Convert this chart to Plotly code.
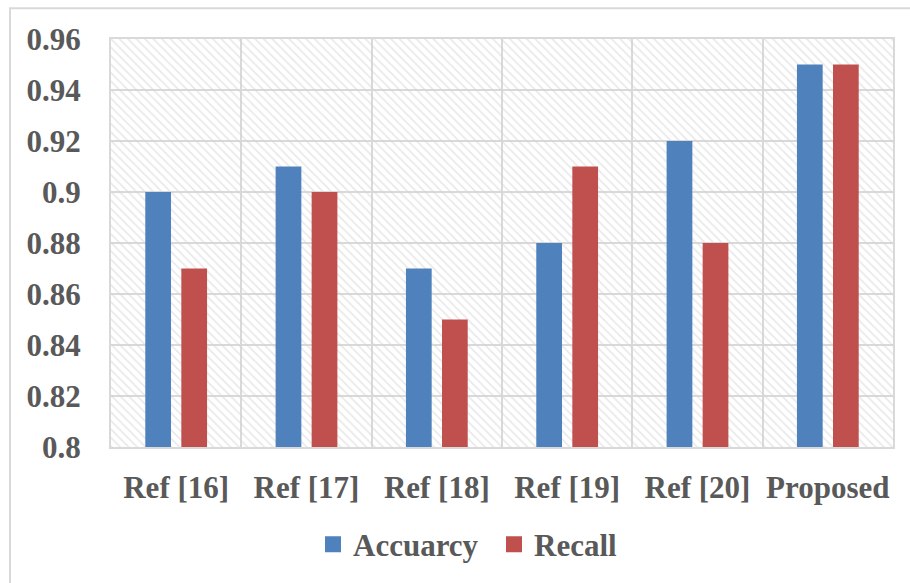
import plotly.graph_objects as go

# Comparison of methods
methods = ["Ref [16]", "Ref [17]", "Ref [18]", "Ref [19]", "Ref [20]", "Proposed"]
accuracy = [0.90, 0.91, 0.87, 0.88, 0.92, 0.95]
recall = [0.87, 0.90, 0.85, 0.91, 0.88, 0.95]
series_names = ["Accuarcy", "Recall"]
series_colors = ["#4F81BD", "#C0504D"]

y_ticks = [0.80, 0.82, 0.84, 0.86, 0.88, 0.90, 0.92, 0.94, 0.96]
y_tick_text = ["0.8", "0.82", "0.84", "0.86", "0.88", "0.9", "0.92", "0.94", "0.96"]

Y_MIN, Y_MAX = 0.80, 0.96
TEXT = "#595959"
GRID = "#D9D9D9"
FONT = dict(family="Liberation Serif, Times New Roman, serif", size=31, color=TEXT, weight="bold")

fig = go.Figure()

# hatched plot background: one patterned bar spanning the whole category range
fig.add_trace(go.Bar(
    x=[methods[0]], y=[Y_MAX - Y_MIN], base=[Y_MIN],
    offset=-0.5, width=[len(methods)],
    marker=dict(color="rgba(0,0,0,0)", line=dict(width=0),
                pattern=dict(shape="\\", fgcolor="#D4D4D4", bgcolor="rgba(0,0,0,0)",
                             size=6, solidity=0.3, fillmode="overlay")),
    showlegend=False, hoverinfo="skip",
))

for name, color, values in zip(series_names, series_colors, [accuracy, recall]):
    fig.add_trace(go.Bar(x=methods, y=[v - Y_MIN for v in values], base=Y_MIN,
                         name=name, marker=dict(color=color, line=dict(width=0)),
                         showlegend=False))

# legend keys drawn as larger square markers
for name, color in zip(series_names, series_colors):
    fig.add_trace(go.Scatter(x=[None], y=[None], mode="markers", name=name,
                             marker=dict(symbol="square", size=16, color=color)))

fig.update_layout(
    width=910, height=583,
    margin=dict(l=111, r=17, t=39, b=134),
    paper_bgcolor="white", plot_bgcolor="white",
    barmode="group", bargap=0.447, bargroupgap=0.286,
    font=FONT,
    legend=dict(orientation="h", x=(313 - 111) / 782, xanchor="left",
                y=-0.239, yanchor="middle",
                font=FONT, itemwidth=30, traceorder="normal",
                entrywidth=136, entrywidthmode="pixels"),
    shapes=[dict(type="rect", xref="paper", yref="paper",
                 x0=(10 - 111) / 782, x1=1 + 30 / 782,
                 y0=-(134 + 10) / 410, y1=1 + (39 - 8) / 410,
                 line=dict(color=GRID, width=2), layer="below")],
)

fig.update_xaxes(
    type="category", categoryorder="array", categoryarray=methods,
    range=[-0.5, 5.5], tickson="boundaries", tickangle=0, automargin=False,
    showgrid=True, gridcolor=GRID, gridwidth=2,
    showline=True, linecolor=GRID, linewidth=2, mirror=True,
    ticks="", ticklabelstandoff=12,
    tickfont=FONT,
)
fig.update_yaxes(
    range=[Y_MIN, Y_MAX], tickvals=y_ticks, ticktext=y_tick_text, automargin=False,
    showgrid=True, gridcolor=GRID, gridwidth=2,
    showline=True, linecolor=GRID, linewidth=2, mirror=True,
    ticks="outside", ticklen=22, tickcolor="rgba(0,0,0,0)",
    tickfont=FONT, zeroline=False,
)

fig.write_html("out.html")
